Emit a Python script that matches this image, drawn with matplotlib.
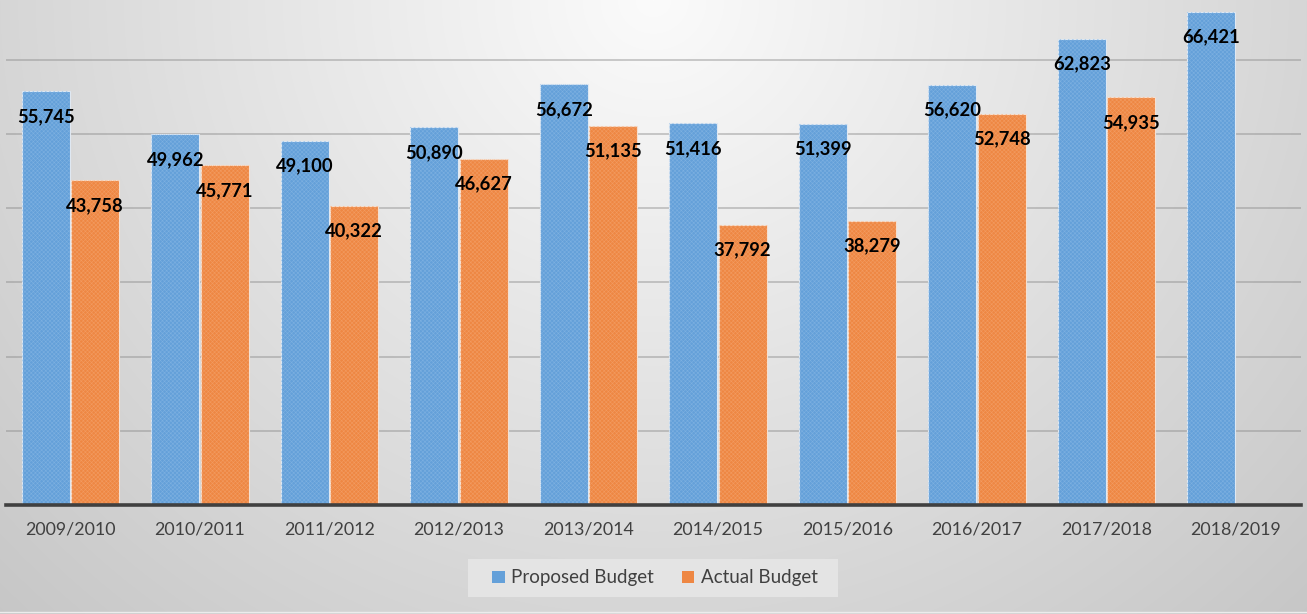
import numpy as np
import matplotlib
matplotlib.use("Agg")
import matplotlib.pyplot as plt
from matplotlib.patches import Rectangle, Patch

categories = ["2009/2010", "2010/2011", "2011/2012", "2012/2013", "2013/2014",
              "2014/2015", "2015/2016", "2016/2017", "2017/2018", "2018/2019"]
proposed = [55745, 49962, 49100, 50890, 56672, 51416, 51399, 56620, 62823, 66421]
actual = [43758, 45771, 40322, 46627, 51135, 37792, 38279, 52748, 54935, np.nan]
series_names = ["Proposed Budget", "Actual Budget"]

plt.rcParams['font.family'] = ['Lato', 'DejaVu Sans']
plt.rcParams['hatch.linewidth'] = 0.4

W, H = 1307, 614
fig = plt.figure(figsize=(W / 100, H / 100), dpi=100)

# background radial gradient
bg = fig.add_axes([0, 0, 1, 1], zorder=-10)
yy, xx = np.mgrid[0:H, 0:W]
r = np.sqrt(((xx - 653) / 653.0) ** 2 + (yy / 614.0) ** 2)
val = np.clip(251 - 37 * r, 0, 255) / 255.0
bg.imshow(np.dstack([val, val, val]), extent=[0, W, H, 0], aspect='auto')
bg.set_xlim(0, W)
bg.set_ylim(H, 0)
bg.axis('off')
bg.add_patch(Rectangle((468, 559), 370, 38, facecolor='#e4e4e4', edgecolor='none'))
bg.plot([0, W], [611.5, 611.5], color='#ececec', lw=1)

ax = fig.add_axes([5.75 / W, 1 - 505 / H, 1295 / W, 505 / H])
ax.patch.set_alpha(0)
x = np.arange(len(categories))
bw = 0.37
off = 0.19
blue = '#64a0d9'
orange = '#ee8743'
ax.bar(x - off, proposed, bw, color=blue, edgecolor='#dfe8f2', linewidth=0.8, zorder=3)
ax.bar(x + off, actual, bw, color=orange, edgecolor='#f4e0d2', linewidth=0.8, zorder=3)
# subtle texture overlay
ax.bar(x - off, proposed, bw, facecolor='none', edgecolor='#8dbbe6', hatch='xxxxxxxx', linewidth=0, zorder=4, alpha=0.6)
ax.bar(x + off, actual, bw, facecolor='none', edgecolor='#f5a874', hatch='xxxxxxxx', linewidth=0, zorder=4, alpha=0.6)

for xs, vals in ((x - off, proposed), (x + off, actual)):
    for xi, v in zip(xs, vals):
        if np.isnan(v):
            continue
        ax.annotate(f"{int(v):,}", (xi, v), xytext=(0, -18), textcoords='offset points',
                    ha='center', va='center', fontsize=13.2, fontweight='bold', color='black', zorder=6)

ax.set_xlim(-0.5, len(categories) - 0.5)
ax.set_ylim(0, 68060)
ax.set_yticks(np.arange(10000, 70000, 10000))
ax.yaxis.grid(True, color='#8a8a8a', alpha=0.5, linewidth=1.2, zorder=1)
ax.set_axisbelow(True)
ax.set_yticklabels([])
ax.tick_params(axis='y', length=0)
ax.set_xticks(x)
ax.set_xticklabels(categories, fontsize=12.9, color='#404040')
ax.tick_params(axis='x', length=0, pad=12)
for s in ('top', 'right', 'left'):
    ax.spines[s].set_visible(False)
ax.spines['bottom'].set_color('#404040')
ax.spines['bottom'].set_linewidth(2.6)
ax.spines['bottom'].set_zorder(5)

handles = [Patch(facecolor=blue, edgecolor='none'), Patch(facecolor=orange, edgecolor='none')]
fig.legend(handles, series_names, loc='center', bbox_to_anchor=(655 / W, 1 - 578 / H),
           ncol=2, frameon=False, fontsize=13.5, labelcolor='#404040',
           handlelength=0.65, handleheight=0.65, handletextpad=0.35, columnspacing=1.5)

fig.savefig("out.png", dpi=100)
